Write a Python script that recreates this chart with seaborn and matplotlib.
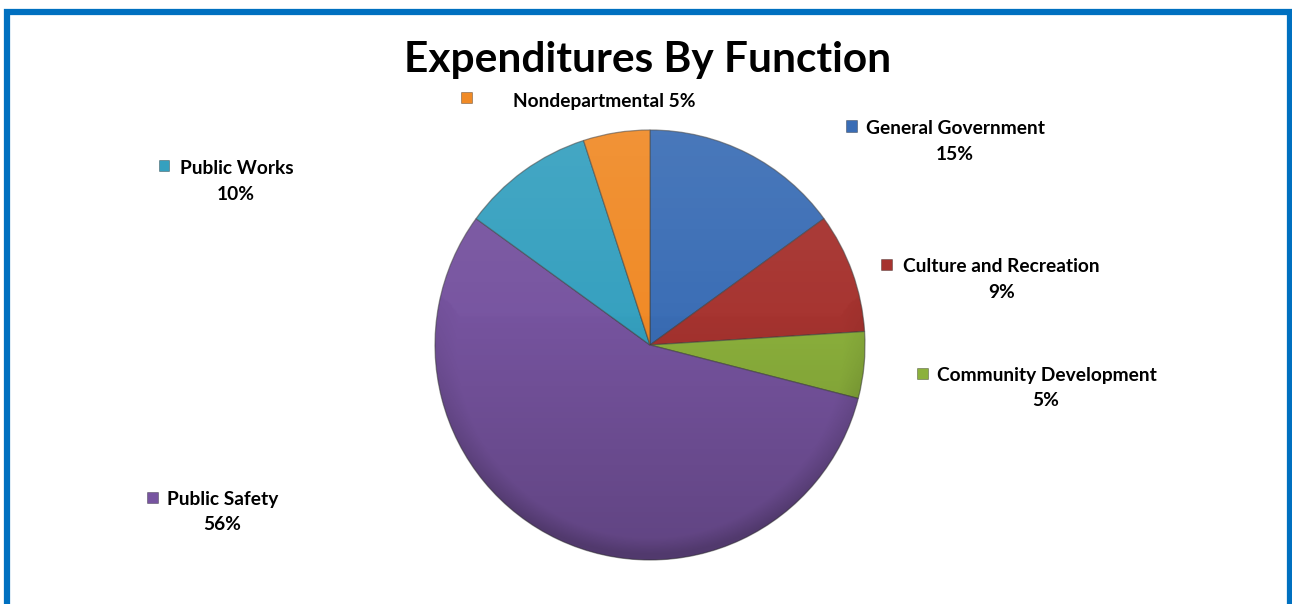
import numpy as np
import matplotlib
matplotlib.use("Agg")
import matplotlib.pyplot as plt
from matplotlib.patches import Rectangle, Circle
import seaborn as sns

# Expenditure shares by function (percent of total)
functions = ["General Government", "Culture and Recreation", "Community Development",
             "Public Safety", "Public Works", "Nondepartmental"]
shares = [15, 9, 5, 56, 10, 5]
colors = ["#3A6DB5", "#A6332F", "#8CB13C", "#7754A0", "#35A0BF", "#F08A26"]

sns.set_theme(style="white")
plt.rcParams["font.family"] = ["Lato", "DejaVu Sans"]

W, H = 1292, 604
fig = plt.figure(figsize=(W / 100, H / 100), dpi=100)
fig.patch.set_facecolor("white")


def fx(x):
    return x / W


def fy(y):
    return 1 - y / H


# Pie axes
cx, cy, r = 650, 345, 215
ax = fig.add_axes([fx(cx - r), fy(cy + r), 2 * r / W, 2 * r / H])
wedges, _ = ax.pie(shares, colors=colors, startangle=90, counterclock=False, radius=1,
                   wedgeprops=dict(edgecolor=(0.25, 0.25, 0.25, 0.55), linewidth=0.9))
ax.axis("off")

# Soft shading over the pie: a touch lighter at the top, darker towards the lower rim
n = 300
yy, xx = np.mgrid[1:-1:complex(0, n), -1:1:complex(0, n)]
rr = np.sqrt(xx ** 2 + yy ** 2)
rim = np.clip(rr - 0.9, 0, None) / 0.1 * np.clip(0.4 - yy, 0, 1.4) / 1.4
dark = np.clip(0.16 * (0.2 - yy) + 0.18 * rim, 0, 0.32)
light = np.clip(0.08 * yy, 0, None)
shade = np.zeros((n, n, 4))
shade[..., :3] = np.where((light > dark)[..., None], 1.0, 0.0)
shade[..., 3] = np.maximum(dark, light)
img = ax.imshow(shade, extent=(-1, 1, -1, 1), zorder=5, interpolation="bilinear")
img.set_clip_path(Circle((0, 0), 1.0, transform=ax.transData))
ax.set_xlim(-1.0, 1.0)
ax.set_ylim(-1.0, 1.0)

# Title
fig.text(fx(648), fy(60), "Expenditures By Function", ha="center", va="center",
         fontsize=30.5, fontweight="bold", color="black")

# Label layout: marker centre, name start, percent centre
layout = {
    "General Government": ((851, 126), (866, 129), (955, 154)),
    "Culture and Recreation": ((886, 264), (903, 267), (1002, 292)),
    "Community Development": ((922, 373), (937, 375), (1046, 400)),
    "Public Safety": ((152, 497), (167, 499), (222, 525)),
    "Public Works": ((164, 166), (180, 169), (236, 195)),
    "Nondepartmental": ((466, 97), (513, 101), None),
}

ms = 11
fs = 13.8
for name, share, col in zip(functions, shares, colors):
    (mx, my), (tx, ty), pct = layout[name]
    fig.patches.append(Rectangle((fx(mx - ms / 2), fy(my + ms / 2)), ms / W, ms / H,
                                 transform=fig.transFigure, facecolor=col,
                                 edgecolor=(0, 0, 0, 0.35), linewidth=0.6))
    if pct is None:
        fig.text(fx(tx), fy(ty), f"{name} {share}%", ha="left", va="center",
                 fontsize=fs, fontweight="bold", color="black")
    else:
        fig.text(fx(tx), fy(ty), name, ha="left", va="center",
                 fontsize=fs, fontweight="bold", color="black")
        fig.text(fx(pct[0]), fy(pct[1]), f"{share}%", ha="center", va="center",
                 fontsize=fs, fontweight="bold", color="black")

# Blue frame around the chart area
fig.patches.append(Rectangle((fx(7), fy(640)), (1290 - 7) / W, (640 - 12) / H,
                             transform=fig.transFigure, facecolor="none",
                             edgecolor="#0070C0", linewidth=4.5, clip_on=False))

fig.savefig("out.png", dpi=100, facecolor="white")
